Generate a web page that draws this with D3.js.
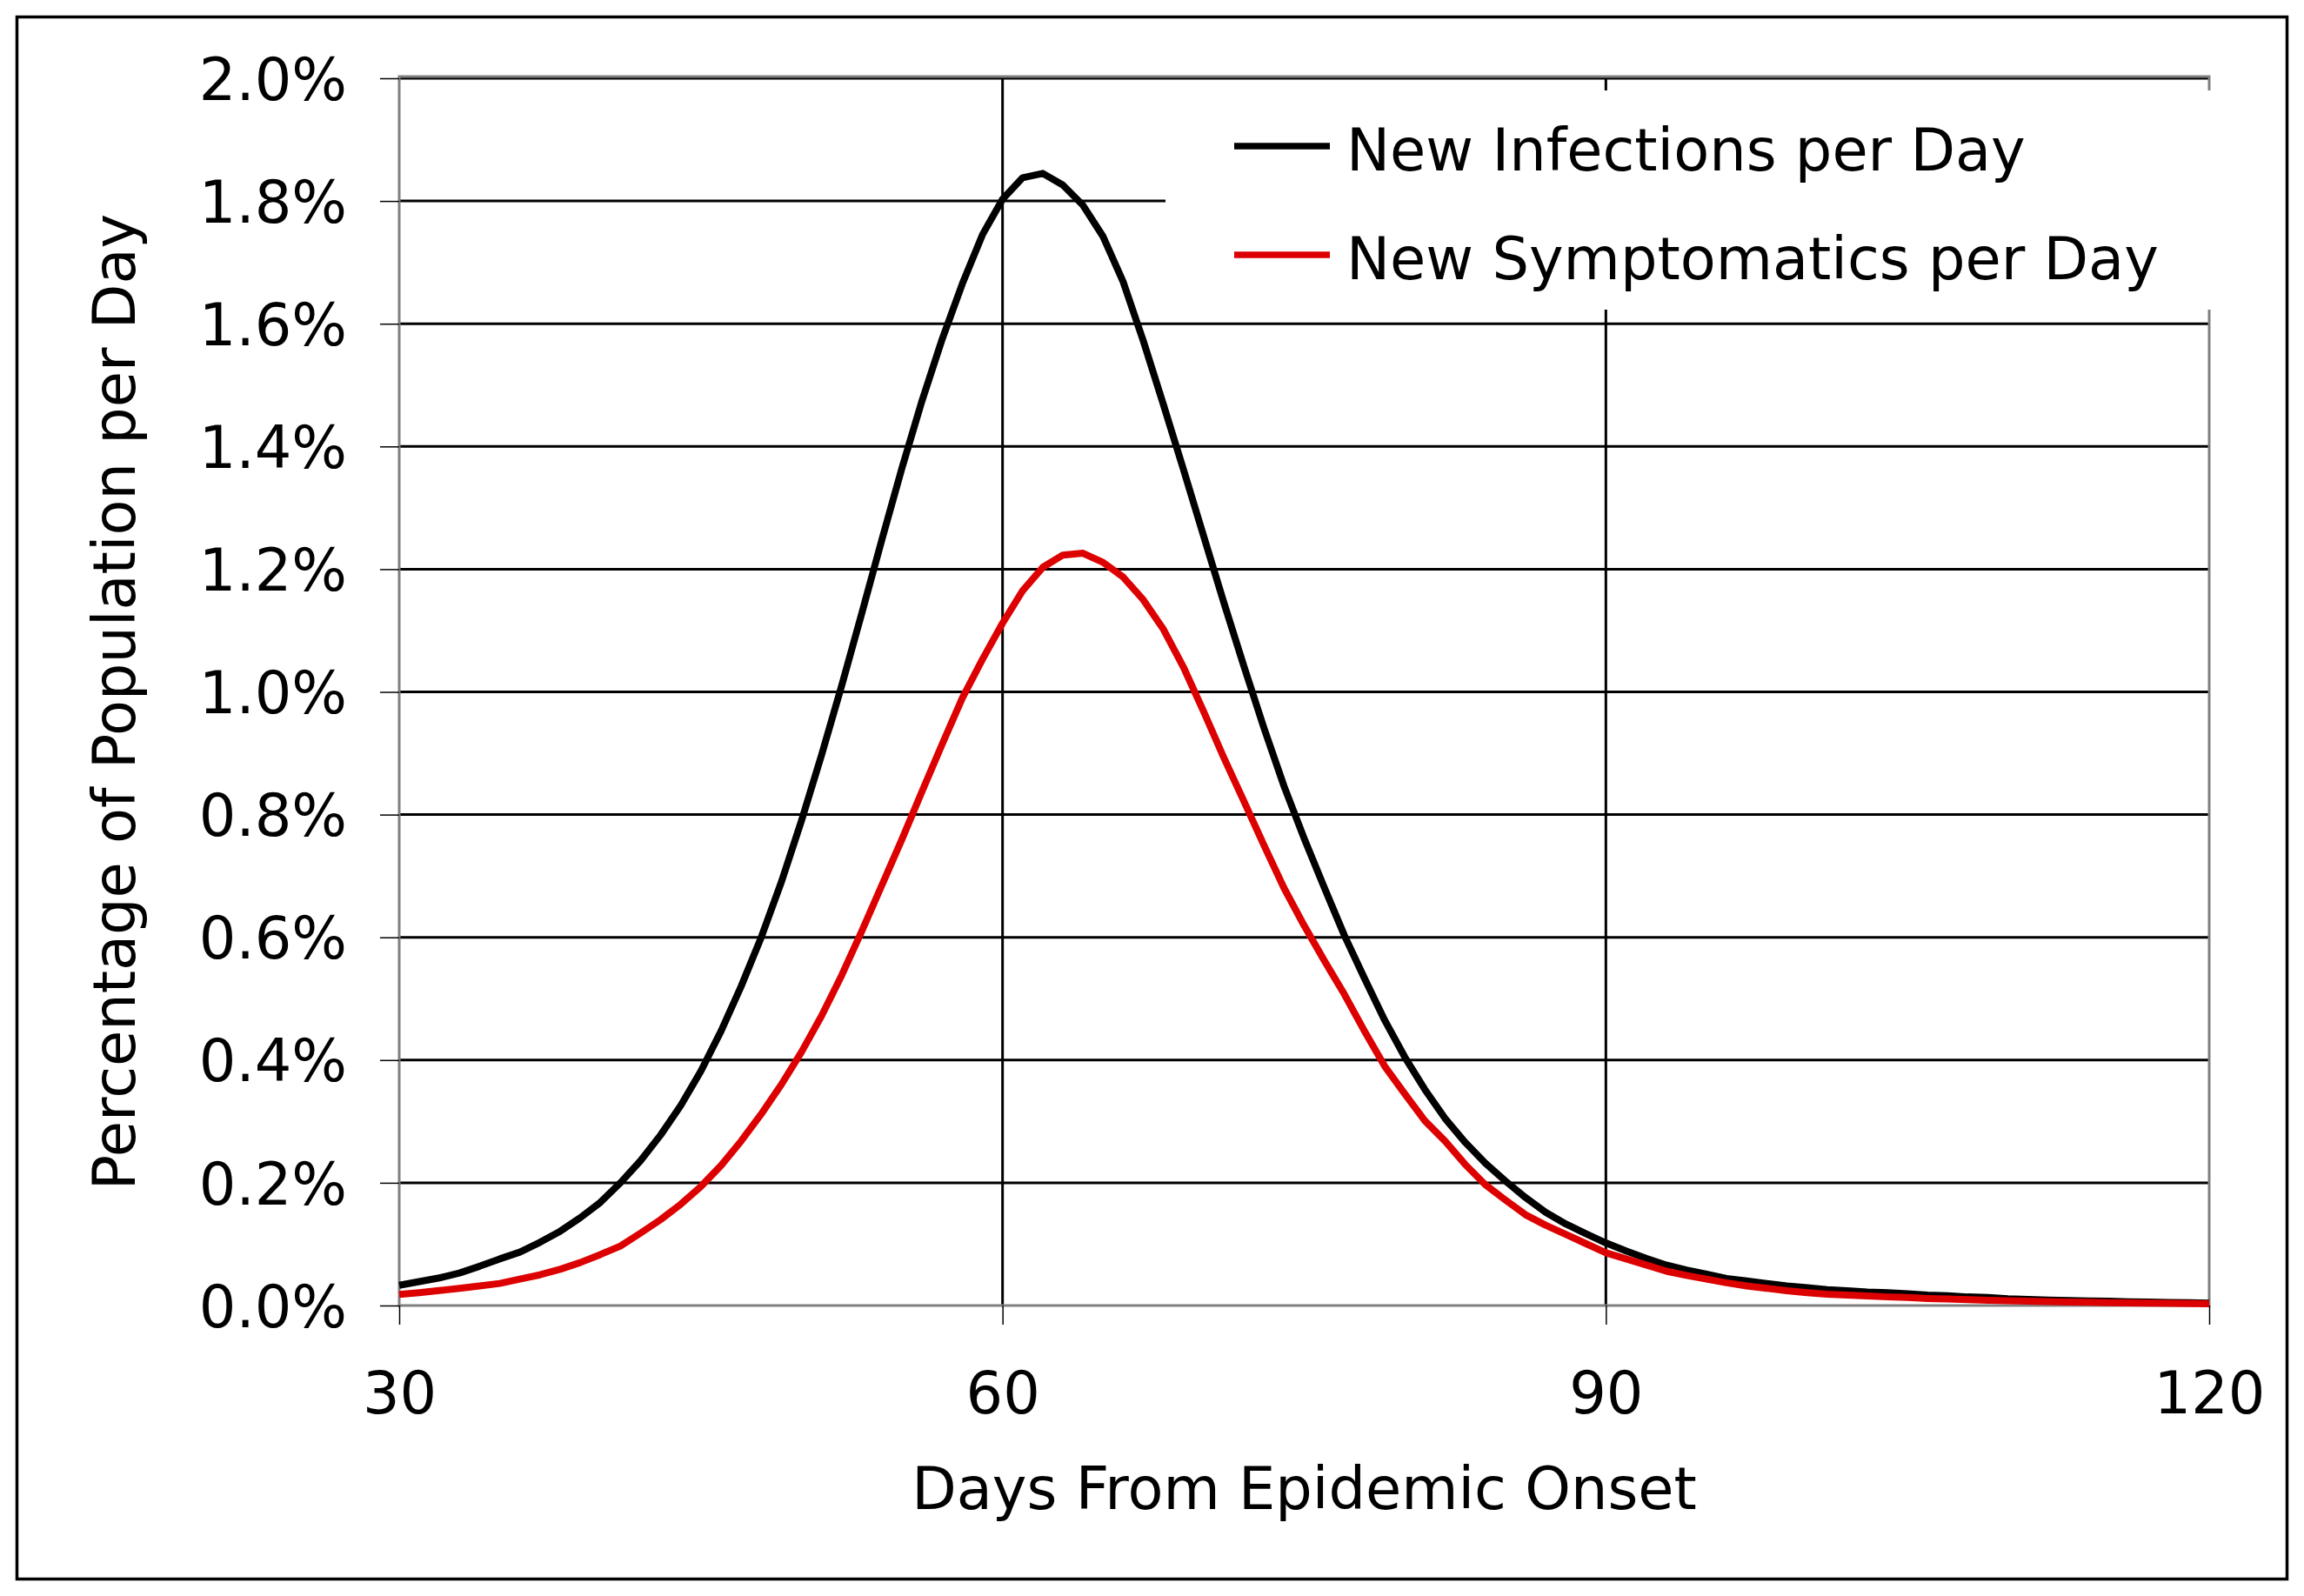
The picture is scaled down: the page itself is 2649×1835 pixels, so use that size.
<!DOCTYPE html>
<html>
<head>
<meta charset="utf-8">
<script src="https://cdn.jsdelivr.net/npm/d3@7"></script>
<style>
  html, body { margin: 0; padding: 0; background: #ffffff; }
  svg { display: block; }
  text { font-family: "DejaVu Sans", Verdana, sans-serif; fill: #000; }
</style>
</head>
<body>
<script>
// ---- data ----
const days = d3.range(30, 121); // day index 30..120
const infections = [
  0.033, 0.039, 0.045, 0.053, 0.064, 0.076, 0.087, 0.103, 0.121, 0.143,
  0.168, 0.200, 0.236, 0.278, 0.326, 0.382, 0.447, 0.520, 0.600, 0.690,
  0.790, 0.897, 1.010, 1.128, 1.248, 1.365, 1.475, 1.575, 1.665, 1.745,
  1.803, 1.838, 1.845, 1.826, 1.793, 1.742, 1.668, 1.572, 1.468, 1.362,
  1.254, 1.146, 1.042, 0.941, 0.846, 0.761, 0.681, 0.603, 0.533, 0.465,
  0.405, 0.352, 0.305, 0.266, 0.232, 0.203, 0.176, 0.152, 0.133, 0.117,
  0.102, 0.089, 0.077, 0.066, 0.058, 0.051, 0.044, 0.040, 0.036, 0.032,
  0.029, 0.026, 0.024, 0.022, 0.021, 0.019, 0.017, 0.016, 0.014, 0.013,
  0.011, 0.010, 0.009, 0.008, 0.0075, 0.007, 0.0062, 0.0055, 0.005, 0.0045, 0.004
];
const symptomatics = [
  0.018, 0.021, 0.0245, 0.028, 0.032, 0.036, 0.043, 0.050, 0.059, 0.070,
  0.083, 0.097, 0.118, 0.140, 0.165, 0.194, 0.228, 0.268, 0.312, 0.360,
  0.413, 0.472, 0.538, 0.610, 0.685, 0.760, 0.838, 0.915, 0.990, 1.053,
  1.112, 1.165, 1.203, 1.223, 1.226, 1.211, 1.187, 1.150, 1.102, 1.040,
  0.968, 0.893, 0.822, 0.750, 0.680, 0.619, 0.562, 0.507, 0.447, 0.390,
  0.345, 0.301, 0.268, 0.230, 0.197, 0.172, 0.148, 0.131, 0.116, 0.101,
  0.086, 0.076, 0.066, 0.056, 0.049, 0.043, 0.037, 0.032, 0.028, 0.024,
  0.021, 0.0185, 0.017, 0.0155, 0.014, 0.013, 0.0115, 0.0105, 0.0095, 0.0085,
  0.0078, 0.007, 0.0063, 0.0057, 0.0052, 0.0047, 0.0043, 0.004, 0.0036, 0.0033, 0.003
];
const seriesNames = ["New Infections per Day", "New Symptomatics per Day"];
const seriesColors = ["#000000", "#dd0000"];
const xTicks = [30, 60, 90, 120];
const yTicks = [0, 0.2, 0.4, 0.6, 0.8, 1.0, 1.2, 1.4, 1.6, 1.8, 2.0];
const xTitle = "Days From Epidemic Onset";
const yTitle = "Percentage of Population per Day";

// ---- layout ----
const W = 2649, H = 1835;
const plot = { left: 459, right: 2540, top: 90, bottom: 1501 };
const FONT = 67;

const svg = d3.select("body").append("svg")
  .attr("width", W).attr("height", H);

svg.append("rect").attr("x", 0).attr("y", 0).attr("width", W).attr("height", H).attr("fill", "#fff");

// outer border
svg.append("rect")
  .attr("x", 19.5).attr("y", 19.5)
  .attr("width", 2610).attr("height", 1796)
  .attr("fill", "none").attr("stroke", "#000").attr("stroke-width", 3.5);

const x = d3.scaleLinear().domain([30, 120]).range([plot.left, plot.right]);
const y = d3.scaleLinear().domain([0, 2.0]).range([plot.bottom, plot.top]);

// gridlines
const grid = svg.append("g");
grid.selectAll("line.h").data(yTicks.filter(d => d > 0)).enter().append("line")
  .attr("x1", plot.left).attr("x2", plot.right)
  .attr("y1", d => y(d)).attr("y2", d => y(d))
  .attr("stroke", "#000").attr("stroke-width", 3);
grid.selectAll("line.v").data(xTicks.filter(d => d > 30 && d < 120)).enter().append("line")
  .attr("x1", d => x(d)).attr("x2", d => x(d))
  .attr("y1", plot.top).attr("y2", plot.bottom)
  .attr("stroke", "#000").attr("stroke-width", 3);

// plot frame (gray)
svg.append("rect")
  .attr("x", plot.left).attr("y", plot.top - 2)
  .attr("width", plot.right - plot.left).attr("height", plot.bottom - plot.top + 2)
  .attr("fill", "none").attr("stroke", "#808080").attr("stroke-width", 3);

// axes
const yAxis = d3.axisLeft(y).tickValues(yTicks).tickSize(22).tickPadding(38)
  .tickFormat(d => d.toFixed(1) + "%");
const gy = svg.append("g").attr("transform", `translate(${plot.left},0)`).call(yAxis);
gy.select(".domain").remove();
gy.selectAll(".tick line").attr("stroke", "#000").attr("stroke-width", 1.5);
gy.selectAll(".tick text")
  .attr("font-family", '"DejaVu Sans", Verdana, sans-serif')
  .attr("font-size", FONT).attr("fill", "#000").attr("dy", "0.36em");

const xAxis = d3.axisBottom(x).tickValues(xTicks).tickSize(22).tickPadding(54)
  .tickFormat(d => String(d));
const gx = svg.append("g").attr("transform", `translate(0,${plot.bottom})`).call(xAxis);
gx.select(".domain").remove();
gx.selectAll(".tick line").attr("stroke", "#000").attr("stroke-width", 1.5);
gx.selectAll(".tick text")
  .attr("font-family", '"DejaVu Sans", Verdana, sans-serif')
  .attr("font-size", FONT).attr("fill", "#000");

// series lines
const line = d3.line().x(d => x(d[0])).y(d => y(d[1]));
const series = [infections, symptomatics];
series.forEach((vals, i) => {
  svg.append("path")
    .datum(days.map((d, k) => [d, vals[k]]))
    .attr("d", line)
    .attr("fill", "none")
    .attr("stroke", seriesColors[i])
    .attr("stroke-width", 8)
    .attr("stroke-linejoin", "round");
});

// legend
const lg = svg.append("g");
lg.append("rect")
  .attr("x", 1340).attr("y", 104)
  .attr("width", 1208).attr("height", 252)
  .attr("fill", "#fff");
seriesNames.forEach((name, i) => {
  const ly = 168 + i * 125;
  lg.append("line")
    .attr("x1", 1419).attr("x2", 1529)
    .attr("y1", ly).attr("y2", ly)
    .attr("stroke", seriesColors[i]).attr("stroke-width", 7.5);
  lg.append("text")
    .attr("x", 1548).attr("y", ly + 28)
    .attr("font-size", FONT)
    .text(name);
});

// axis titles
svg.append("text")
  .attr("x", (plot.left + plot.right) / 2).attr("y", 1735)
  .attr("text-anchor", "middle")
  .attr("font-size", FONT)
  .text(xTitle);

svg.append("text")
  .attr("transform", `translate(155,807) rotate(-90)`)
  .attr("text-anchor", "middle")
  .attr("font-size", 67)
  .text(yTitle);
</script>
</body>
</html>
